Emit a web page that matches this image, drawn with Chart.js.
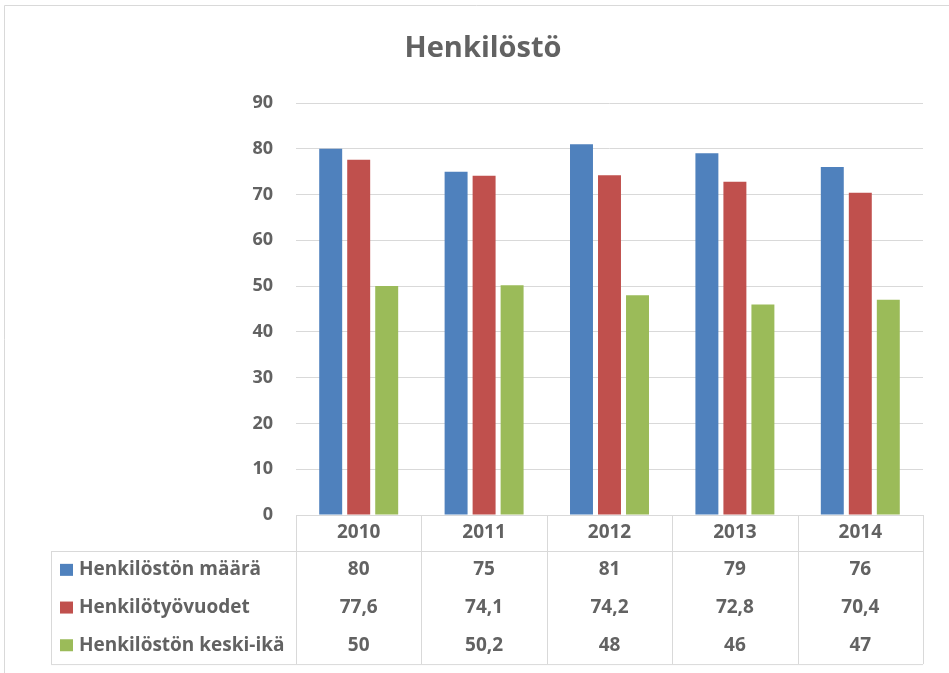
<!DOCTYPE html>
<html>
<head>
<meta charset="utf-8">
<script src="https://cdn.jsdelivr.net/npm/chart.js@4/dist/chart.umd.min.js"></script>
<style>
  html, body { margin: 0; padding: 0; background: #fff; }
  #wrap { width: 949px; height: 673px; position: relative; }
</style>
</head>
<body>
<div id="wrap"><canvas id="chart" width="949" height="673"></canvas></div>
<script>
// Chart data
const years = ['2010', '2011', '2012', '2013', '2014'];
const seriesNames = ['Henkilöstön määrä', 'Henkilötyövuodet', 'Henkilöstön keski-ikä'];
const headcount = [80, 75, 81, 79, 76];
const personYears = [77.6, 74.1, 74.2, 72.8, 70.4];
const averageAge = [50, 50.2, 48, 46, 47];
const yTicks = [0, 10, 20, 30, 40, 50, 60, 70, 80, 90];

const seriesValues = [headcount, personYears, averageAge];
const seriesColors = ['#4f81bd', '#c0504d', '#9bbb59'];

const FONT = '"Open Sans", Lato, sans-serif';
const TEXT = '#626262';
const LINE = '#d9d9d9';

// Format numbers the Finnish way (comma as decimal separator)
function fmt(v) {
    return String(v).replace('.', ',');
}

/**
 * Draws the title, frame and the data table under the plot
 */
const tablePlugin = {
    id: 'dataTable',
    afterDraw(chart) {
        const ctx = chart.ctx;
        const area = chart.chartArea;
        const x = chart.scales.x;
        const colW = (area.right - area.left) / years.length;
        const headTop = area.bottom;
        const headBottom = headTop + 36;
        const rowH = 37.7;
        const tableLeft = 51;
        const tableBottom = headBottom + rowH * 3;

        ctx.save();

        // outer frame
        ctx.strokeStyle = LINE;
        ctx.lineWidth = 1;
        ctx.beginPath();
        ctx.moveTo(4.5, 673);
        ctx.lineTo(4.5, 5.5);
        ctx.lineTo(949, 5.5);
        ctx.stroke();

        // title
        ctx.fillStyle = TEXT;
        ctx.font = 'bold 29px ' + FONT;
        ctx.textAlign = 'center';
        ctx.textBaseline = 'middle';
        ctx.fillText('Henkilöstö', 483, 49);

        // table lines
        ctx.beginPath();
        ctx.moveTo(area.left, headTop + 0.5);
        ctx.lineTo(area.right, headTop + 0.5);
        ctx.moveTo(tableLeft, headBottom + 0.5);
        ctx.lineTo(area.right, headBottom + 0.5);
        ctx.moveTo(tableLeft, tableBottom + 0.5);
        ctx.lineTo(area.right, tableBottom + 0.5);
        ctx.moveTo(tableLeft + 0.5, headBottom);
        ctx.lineTo(tableLeft + 0.5, tableBottom);
        for (let i = 0; i <= years.length; i++) {
            const lx = Math.round(area.left + colW * i) + 0.5;
            ctx.moveTo(lx, headTop);
            ctx.lineTo(lx, tableBottom);
        }
        ctx.stroke();

        // header: years
        ctx.font = 'bold 19px ' + FONT;
        ctx.textAlign = 'center';
        years.forEach((yr, i) => {
            ctx.fillText(yr, x.getPixelForValue(i), (headTop + headBottom) / 2);
        });

        // body rows
        seriesNames.forEach((name, r) => {
            const cy = headBottom + rowH * r + rowH / 2;
            ctx.fillStyle = seriesColors[r];
            ctx.fillRect(60, cy - 6, 13, 12);
            ctx.fillStyle = TEXT;
            ctx.textAlign = 'left';
            ctx.fillText(name, 79, cy);
            ctx.textAlign = 'center';
            seriesValues[r].forEach((v, i) => {
                ctx.fillText(fmt(v), x.getPixelForValue(i), cy);
            });
        });

        ctx.restore();
    }
};

const ctx = document.getElementById('chart').getContext('2d');
new Chart(ctx, {
    type: 'bar',
    data: {
        labels: years,
        datasets: seriesNames.map((name, i) => ({
            label: name,
            data: seriesValues[i],
            backgroundColor: seriesColors[i],
            borderWidth: 0,
            barPercentage: 0.82,
            categoryPercentage: 0.67
        }))
    },
    options: {
        responsive: false,
        animation: false,
        layout: {
            padding: { top: 103, bottom: 158, left: 0, right: 26 }
        },
        plugins: {
            legend: { display: false },
            title: { display: false },
            tooltip: { enabled: false }
        },
        scales: {
            x: {
                display: false
            },
            y: {
                min: 0,
                max: 90,
                afterFit(scale) { scale.width = 296; },
                afterBuildTicks(scale) {
                    scale.ticks = yTicks.map(v => ({ value: v }));
                },
                border: { display: false },
                grid: { color: LINE, lineWidth: 1, drawTicks: false },
                ticks: {
                    padding: 23,
                    color: TEXT,
                    font: { family: FONT, size: 18, weight: 'bold' }
                }
            }
        }
    },
    plugins: [tablePlugin]
});
</script>
</body>
</html>
